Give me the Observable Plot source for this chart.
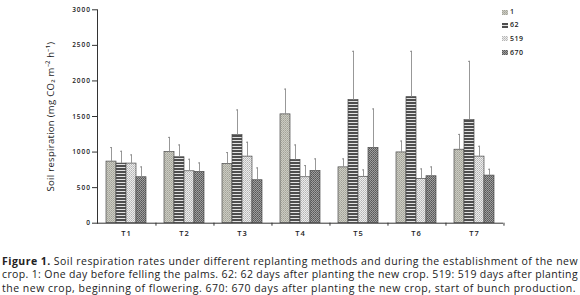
<!DOCTYPE html>
<html><head><meta charset="utf-8">
<script src="https://cdn.jsdelivr.net/npm/d3@7"></script>
<script src="https://cdn.jsdelivr.net/npm/@observablehq/plot@0.6"></script>
<style>
body{margin:0;background:#fff;font-family:"Open Sans",sans-serif;color:#222;}
#wrap{position:relative;width:580px;height:242px;}
g[aria-label="y-axis tick label"] text{font-size:6.5px;letter-spacing:1px;font-weight:600;fill:#222;}
g[aria-label="y-axis label"] text{font-size:9.5px;letter-spacing:0.3px;fill:#222;}
g[aria-label="fx-axis tick label"] text{font-size:7.5px;letter-spacing:1px;font-weight:600;fill:#222;}
#legend{position:absolute;left:502px;top:0;font-size:7px;letter-spacing:0.5px;font-weight:600;}
#legend .row{position:absolute;left:0;height:8px;line-height:8px;white-space:nowrap;}
#legend svg{position:absolute;left:0;top:1.5px;}
#legend span{position:absolute;left:8px;top:0;}
#caption{margin:13px 0 0 2px;width:576px;font-size:10.5px;color:#222;}
#caption .l{height:13.3px;line-height:13.3px;white-space:nowrap;}
</style></head><body>
<svg width="0" height="0" style="position:absolute">
<defs>
<pattern id="p1" width="2" height="2" patternUnits="userSpaceOnUse"><rect width="2" height="2" fill="#cbcbc2"/><rect width="1" height="1" fill="#a2a298"/><rect x="1" y="1" width="1" height="1" fill="#b0b0a6"/></pattern>
<pattern id="p62" width="3" height="3" patternUnits="userSpaceOnUse"><rect width="3" height="3" fill="#e2e2e2"/><rect width="3" height="2" fill="#4e4e4e"/></pattern>
<pattern id="p519" width="2" height="2" patternUnits="userSpaceOnUse"><rect width="2" height="2" fill="#ececec"/><rect width="1" height="1" fill="#b4b4b4"/><rect x="1" y="1" width="1" height="1" fill="#c4c4c4"/></pattern>
<pattern id="p670" width="2" height="2" patternUnits="userSpaceOnUse"><rect width="2" height="2" fill="#9e9e9e"/><rect width="1" height="1" fill="#575757"/><rect x="1" y="1" width="1" height="1" fill="#666"/></pattern>
</defs></svg>
<div id="wrap"><div id="chart"></div><div id="legend"></div></div>
<div id="caption">
<div class="l"><span class="fit" data-w="576"><b>Figure 1.</b> Soil respiration rates under different replanting methods and during the establishment of the new</span></div>
<div class="l"><span class="fit" data-w="576">crop. 1: One day before felling the palms. 62: 62 days after planting the new crop. 519: 519 days after planting</span></div>
<div class="l"><span class="fit" data-w="574">the new crop, beginning of flowering. 670: 670 days after planting the new crop, start of bunch production.</span></div>
</div>
<script>
const groups = ["T1","T2","T3","T4","T5","T6","T7"];
const seriesKeys = ["1","62","519","670"];
const mean1   = [866, 1000, 833, 1530, 785, 995, 1033];
const mean62  = [838, 927, 1241, 890, 1730, 1772, 1450];
const mean519 = [838, 730, 936, 646, 652, 623, 936];
const mean670 = [646, 721, 604, 735, 1058, 660, 669];
const sd1   = [197, 206, 160, 355, 119, 160, 215];
const sd62  = [173, 173, 351, 210, 686, 644, 825];
const sd519 = [122, 169, 202, 164, 97, 140, 145];
const sd670 = [145, 126, 173, 169, 548, 131, 89];
const yTicks = [0, 500, 1000, 1500, 2000, 2500, 3000];
const yLabel = "Soil respiration (mg CO₂ m⁻² h⁻¹)";

const means = [mean1, mean62, mean519, mean670];
const sds = [sd1, sd62, sd519, sd670];
const rows = groups.flatMap((g, i) => seriesKeys.map((s, j) => ({group: g, series: s, value: means[j][i], sd: sds[j][i]})));
const fills = {"1": "url(#p1)", "62": "url(#p62)", "519": "url(#p519)", "670": "url(#p670)"};

const W = 580, H = 242, mL = 94, mR = 73.3;
const step = (W - mL - mR) / groups.length;

const chart = Plot.plot({
  width: W, height: H,
  marginLeft: mL, marginRight: mR, marginTop: 9.3, marginBottom: 19.3,
  style: {fontFamily: "Open Sans", color: "#333", background: "transparent"},
  fx: {domain: groups, padding: 0, label: null},
  x: {domain: seriesKeys, paddingInner: 0, paddingOuter: 0.667, axis: null},
  y: {domain: [0, 3000], label: null},
  color: {type: "identity"},
  marks: [
    Plot.barY(rows, {fx: "group", x: "series", y: "value", fill: d => fills[d.series], stroke: "#4a4a4a", strokeWidth: 0.7}),
    Plot.ruleX(rows, {fx: "group", x: "series", y1: "value", y2: d => d.value + d.sd, stroke: "#8c8c8c", strokeWidth: 0.9}),
    Plot.tickY(rows, {fx: "group", x: "series", y: d => d.value + d.sd, stroke: "#8c8c8c", strokeWidth: 0.9, insetLeft: 4, insetRight: 4}),
    Plot.ruleY([0], {stroke: "#333"}),
    Plot.frame({anchor: "left", facetAnchor: "left", stroke: "#333"}),
    Plot.axisY({ticks: yTicks, tickFormat: d3.format("d"), tickSize: 5, tickPadding: 1.5, stroke: "#333", label: yLabel, labelAnchor: "center", labelOffset: 50, labelArrow: "none"}),
    Plot.axisFx({anchor: "bottom", tickSize: 3, tickFormat: () => "", dx: step / 2, stroke: "#333"}),
    Plot.axisFx({anchor: "bottom", tickSize: 0, tickPadding: 7.5})
  ]
});
document.getElementById("chart").appendChild(chart);

// legend
const legend = d3.select("#legend");
const rowY = [8.3, 21, 34.7, 48.7];
seriesKeys.forEach((s, j) => {
  const r = legend.append("div").attr("class", "row").style("top", rowY[j] + "px");
  r.append("svg").attr("width", 6).attr("height", 5)
    .append("rect").attr("width", 6).attr("height", 5).attr("fill", fills[s]);
  r.append("span").text(s);
});

// fit each caption line to the width it has in the reference
document.querySelectorAll("#caption .fit").forEach(el => {
  const w = el.getBoundingClientRect().width;
  const n = el.textContent.length;
  el.style.letterSpacing = ((+el.dataset.w - w) / n) + "px";
});
</script>
</body></html>
